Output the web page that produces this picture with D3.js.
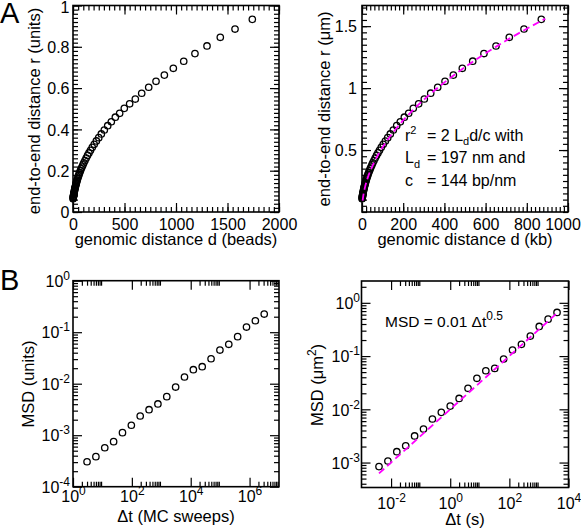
<!DOCTYPE html>
<html><head><meta charset="utf-8">
<script src="https://cdn.jsdelivr.net/npm/d3@7"></script>
<style>
body{margin:0;background:#fff}
svg{display:block}
text{font-family:"Liberation Sans",Arial,Helvetica,sans-serif;fill:#000}
</style>
</head><body>
<script>
// ---------- Panel A (left): end-to-end distance vs genomic distance (simulation units)
const dBeads = [1, 2, 3, 4, 5, 6, 7, 8, 9, 10, 12, 14, 16, 18, 20, 22, 25, 27, 30, 33, 36, 40, 44, 49, 54, 59, 65, 72, 79, 87, 96, 105, 116, 128, 141, 155, 170, 187, 206, 227, 250, 275, 304, 337, 372, 411, 453, 498, 550, 605, 667, 735, 806, 887, 974, 1075, 1184, 1301, 1430, 1573, 1741];
const rUnits = [0.064, 0.068, 0.072, 0.075, 0.078, 0.081, 0.085, 0.087, 0.090, 0.093, 0.098, 0.103, 0.108, 0.113, 0.117, 0.121, 0.127, 0.131, 0.137, 0.142, 0.148, 0.154, 0.161, 0.168, 0.176, 0.183, 0.191, 0.200, 0.209, 0.218, 0.228, 0.238, 0.249, 0.261, 0.274, 0.286, 0.299, 0.313, 0.328, 0.344, 0.360, 0.378, 0.397, 0.418, 0.437, 0.459, 0.478, 0.502, 0.524, 0.547, 0.575, 0.604, 0.633, 0.663, 0.696, 0.730, 0.767, 0.804, 0.846, 0.886, 0.933];
const aLeftXTicks = [0, 500, 1000, 1500, 2000];
const aLeftYTicks = [0, 0.2, 0.4, 0.6, 0.8, 1];

// ---------- Panel A (right): physical units
const dKb = [0.5, 1, 1.5, 2, 2.5, 3, 3.5, 4, 4.5, 5, 6, 7, 8, 9, 10, 11, 12.5, 13.5, 15, 16.5, 18, 20, 22, 24.5, 27, 29.5, 32.5, 36, 39.5, 43.5, 48, 52.5, 58, 64, 70.5, 77.5, 85, 93.5, 103, 113.5, 125, 137.5, 152, 168.5, 186, 205.5, 226.5, 249, 275, 302.5, 333.5, 367.5, 403, 443.5, 487, 537.5, 592, 650.5, 715, 786.5, 870.5];
const rUm = [0.107, 0.113, 0.120, 0.125, 0.130, 0.135, 0.142, 0.145, 0.150, 0.155, 0.163, 0.172, 0.180, 0.188, 0.195, 0.202, 0.212, 0.218, 0.228, 0.237, 0.247, 0.257, 0.268, 0.280, 0.293, 0.305, 0.318, 0.333, 0.348, 0.363, 0.380, 0.397, 0.415, 0.435, 0.457, 0.477, 0.498, 0.522, 0.547, 0.573, 0.600, 0.630, 0.662, 0.697, 0.728, 0.765, 0.797, 0.837, 0.873, 0.912, 0.959, 1.007, 1.055, 1.105, 1.160, 1.217, 1.279, 1.340, 1.410, 1.477, 1.555];
const fitDKb = [3, 6, 10, 15, 25, 40, 60, 85, 120, 160, 220, 300, 400, 500, 600, 700, 800, 890];
const fitRUm = [0.091, 0.128, 0.165, 0.203, 0.262, 0.331, 0.405, 0.482, 0.573, 0.662, 0.776, 0.906, 1.046, 1.169, 1.281, 1.384, 1.479, 1.560];
const aRightXTicks = [0, 200, 400, 600, 800, 1000];
const aRightYTicks = [0.5, 1, 1.5];

// ---------- Panel B (left): MSD vs MC sweeps
const tSweeps = [3, 6, 12, 24, 48, 96, 192, 384, 768, 1536, 3072, 6144, 12288, 24576, 49152, 98304, 196608, 393216, 786432, 1572864, 3145728];
const msdUnits = [3.05e-4, 3.83e-4, 5.7e-4, 7.5e-4, 1.12e-3, 1.56e-3, 2.36e-3, 3.13e-3, 4.04e-3, 5.6e-3, 8.6e-3, 1.35e-2, 1.87e-2, 2.14e-2, 3.05e-2, 4.5e-2, 5.82e-2, 8.2e-2, 0.126, 0.167, 0.225];
const bLeftXTicks = [1, 1e2, 1e4, 1e6];
const bLeftYTicks = [1e-4, 1e-3, 1e-2, 1e-1, 1];

// ---------- Panel B (right): MSD vs seconds
const tSec = [0.00390625, 0.0078125, 0.015625, 0.03125, 0.0625, 0.125, 0.25, 0.5, 1, 2, 4, 8, 16, 32, 64, 128, 256, 512, 1024, 2048, 4096];
const msdUm2 = [8.4e-4, 1.07e-3, 1.6e-3, 2.07e-3, 3.16e-3, 4.27e-3, 6.58e-3, 8.77e-3, 1.15e-2, 1.6e-2, 2.48e-2, 3.82e-2, 5.3e-2, 5.87e-2, 8.8e-2, 0.13, 0.166, 0.237, 0.36, 0.494, 0.66];
const fitTSec = [0.0039, 4096];
const fitMsdUm2 = [0.000625, 0.64];
const bRightXTicks = [1e-2, 1, 1e2, 1e4];
const bRightYTicks = [1e-3, 1e-2, 1e-1, 1];

// ================= drawing =================
const svg = d3.select("body").append("svg").attr("width", 581).attr("height", 531);
const FONT = '"Liberation Sans",Arial,Helvetica,sans-serif';
const MAJ = 9, MIN = 5, TFS = 16, EFS = 12;

function styleAxis(sel) {
  sel.select(".domain").remove();
  sel.attr("font-family", FONT).attr("font-size", TFS);
  sel.selectAll("line").attr("stroke", "#000").attr("stroke-width", 1.2);
  sel.selectAll("text").attr("fill", "#000");
}
function supLabels(sel) {
  sel.selectAll(".tick text").each(function(d) {
    const t = d3.select(this);
    t.text("10");
    t.append("tspan").attr("dy", -7).attr("font-size", EFS).text(Math.round(Math.log10(d)));
  });
}

function panel(o) {
  const g = svg.append("g");
  const b = o.box;
  // minor ticks (all four sides)
  g.append("g").attr("transform", `translate(0,${b.y1})`).call(d3.axisBottom(o.x).tickValues(o.xMinor).tickSizeInner(-MIN).tickSizeOuter(0).tickFormat("")).call(styleAxis);
  g.append("g").attr("transform", `translate(0,${b.y0})`).call(d3.axisTop(o.x).tickValues(o.xMinor).tickSizeInner(-MIN).tickSizeOuter(0).tickFormat("")).call(styleAxis);
  g.append("g").attr("transform", `translate(${b.x0},0)`).call(d3.axisLeft(o.y).tickValues(o.yMinor).tickSizeInner(-MIN).tickSizeOuter(0).tickFormat("")).call(styleAxis);
  g.append("g").attr("transform", `translate(${b.x1},0)`).call(d3.axisRight(o.y).tickValues(o.yMinor).tickSizeInner(-MIN).tickSizeOuter(0).tickFormat("")).call(styleAxis);
  // major ticks + labels
  const xb = g.append("g").attr("transform", `translate(0,${b.y1})`)
    .call(d3.axisBottom(o.x).tickValues(o.xMajor).tickSizeInner(-MAJ).tickSizeOuter(0).tickPadding(o.xPad).tickFormat(o.log ? (d => "10") : o.xFmt)).call(styleAxis);
  g.append("g").attr("transform", `translate(0,${b.y0})`).call(d3.axisTop(o.x).tickValues(o.xMajor).tickSizeInner(-MAJ).tickSizeOuter(0).tickFormat("")).call(styleAxis);
  const yl = g.append("g").attr("transform", `translate(${b.x0},0)`)
    .call(d3.axisLeft(o.y).tickValues(o.yMajor).tickSizeInner(-MAJ).tickSizeOuter(0).tickPadding(o.yPad).tickFormat(o.log ? (d => "10") : o.yFmt)).call(styleAxis);
  g.append("g").attr("transform", `translate(${b.x1},0)`).call(d3.axisRight(o.y).tickValues(o.yMajor).tickSizeInner(-MAJ).tickSizeOuter(0).tickFormat("")).call(styleAxis);
  yl.selectAll(".tick text").attr("dy", "0.36em");
  if (o.log) { supLabels(xb); supLabels(yl); }
  // frame
  g.append("rect").attr("x", b.x0).attr("y", b.y0).attr("width", b.x1 - b.x0).attr("height", b.y1 - b.y0)
    .attr("fill", "none").attr("stroke", "#000").attr("stroke-width", 1.6);
  return {g, xb, yl};
}

function points(g, x, y, xs, ys) {
  g.append("g").selectAll("circle").data(xs.map((v, i) => [v, ys[i]])).join("circle")
    .attr("cx", d => x(d[0])).attr("cy", d => y(d[1])).attr("r", 3.2)
    .attr("fill", "none").attr("stroke", "#000").attr("stroke-width", 1.3);
}
function fitLine(g, x, y, xs, ys, curve) {
  g.append("path").datum(xs.map((v, i) => [v, ys[i]]))
    .attr("d", d3.line().x(d => x(d[0])).y(d => y(d[1])).curve(curve))
    .attr("fill", "none").attr("stroke", "#ff00ff").attr("stroke-width", 1.8).attr("stroke-dasharray", "7,4");
}
function label(x, y, txt, fs, rot) {
  const t = svg.append("text").attr("font-size", fs).attr("text-anchor", "middle")
    .attr("transform", `translate(${x},${y})` + (rot ? " rotate(-90)" : ""));
  return t.text(txt);
}
const fmtLin = d => String(+d.toFixed(2));
const TT = 16.5;

// ---- A left
{
  const box = {x0: 73, x1: 279, y0: 5.5, y1: 212};
  const x = d3.scaleLinear().domain([0, 2000]).range([box.x0, box.x1]);
  const y = d3.scaleLinear().domain([0, 1]).range([box.y1, box.y0]);
  const p = panel({box, x, y, xMajor: aLeftXTicks, xMinor: d3.range(0, 2001, 50), yMajor: aLeftYTicks,
    yMinor: d3.range(0, 51).map(i => i * 0.02), xFmt: fmtLin, yFmt: fmtLin, xPad: 7, yPad: 3.5});
  p.yl.selectAll(".tick text").filter(d => d === 1).attr("y", 1.5);
  points(p.g, x, y, dBeads, rUnits);
  label(176, 245, "genomic distance d (beads)", TT);
  label(39.5, 111, "end-to-end distance r (units)", TT, true);
}
// ---- A right
{
  const box = {x0: 362, x1: 568, y0: 5.5, y1: 212};
  const x = d3.scaleLinear().domain([0, 1000]).range([box.x0, box.x1]);
  const y = d3.scaleLinear().domain([0, 1.6667]).range([box.y1, box.y0]);
  const p = panel({box, x, y, xMajor: aRightXTicks, xMinor: d3.range(0, 1001, 20), yMajor: aRightYTicks,
    yMinor: d3.range(0, 34).map(i => i * 0.05), xFmt: fmtLin, yFmt: fmtLin, xPad: 7, yPad: 5});
  p.xb.selectAll(".tick text").filter(d => d === 1000).attr("dx", -5.5);
  points(p.g, x, y, dKb, rUm);
  fitLine(p.g, x, y, fitDKb, fitRUm, d3.curveMonotoneX);
  label(465, 245, "genomic distance d (kb)", TT);
  label(330, 109, "end-to-end distance r (μm)", TT, true);
  // annotation
  const fs = 16;
  const t1 = svg.append("text").attr("font-size", fs).attr("x", 405).attr("y", 140.5);
  t1.append("tspan").text("r");
  t1.append("tspan").attr("font-size", 11).attr("y", 133.5).text("2");
  t1.append("tspan").attr("x", 427).attr("y", 140.5).text("= 2 L");
  t1.append("tspan").attr("font-size", 11).attr("y", 145).text("d");
  t1.append("tspan").attr("y", 140.5).text("d/c with");
  const t2 = svg.append("text").attr("font-size", fs).attr("x", 405).attr("y", 163);
  t2.append("tspan").text("L");
  t2.append("tspan").attr("font-size", 11).attr("y", 167.5).text("d");
  t2.append("tspan").attr("x", 427).attr("y", 163).text("= 197 nm and");
  const t3 = svg.append("text").attr("font-size", fs).attr("x", 405).attr("y", 185.5);
  t3.append("tspan").text("c");
  t3.append("tspan").attr("x", 427).text("= 144 bp/nm");
}
// ---- B left
{
  const box = {x0: 73, x1: 279, y0: 280.7, y1: 486.7};
  const x = d3.scaleLog().domain([1, 1e7]).range([box.x0, box.x1]);
  const y = d3.scaleLog().domain([1e-4, 1]).range([box.y1, box.y0]);
  const xMinor = bLeftXTicks.flatMap(m => d3.range(2, 10).map(k => m * k));
  const yMinor = [1e-4, 1e-3, 1e-2, 1e-1].flatMap(m => d3.range(2, 10).map(k => m * k));
  const p = panel({box, x, y, log: true, xMajor: bLeftXTicks, xMinor, yMajor: bLeftYTicks, yMinor, xPad: 4, yPad: 3});
  points(p.g, x, y, tSweeps, msdUnits);
  label(176, 522, "Δt (MC sweeps)", TT);
  label(34, 384, "MSD (units)", TT, true);
}
// ---- B right
{
  const box = {x0: 361.5, x1: 568.5, y0: 281, y1: 487.5};
  const x = d3.scaleLog().domain([1e-3, 1e4]).range([box.x0, box.x1]);
  const y = d3.scaleLog().domain([3.4e-4, 2.57]).range([box.y1, box.y0]);
  const xMinor = [1e-2, 1, 1e2].flatMap(m => d3.range(2, 10).map(k => m * k));
  const yMinor = [1e-4, 1e-3, 1e-2, 1e-1, 1].flatMap(m => d3.range(2, 10).map(k => m * k)).filter(v => v > 3.4e-4 && v < 2.57);
  const p = panel({box, x, y, log: true, xMajor: bRightXTicks, xMinor, yMajor: bRightYTicks, yMinor, xPad: 10, yPad: 1.5});
  points(p.g, x, y, tSec, msdUm2);
  fitLine(p.g, x, y, fitTSec, fitMsdUm2, d3.curveLinear);
  label(465, 525, "Δt (s)", TT);
  const yt = label(323, 385, "MSD (μm", TT, true);
  yt.append("tspan").attr("dy", -7).attr("font-size", EFS).text("2");
  yt.append("tspan").attr("dy", 7).text(")");
  const t = svg.append("text").attr("font-size", 15.5).attr("x", 385).attr("y", 327).text("MSD = 0.01 Δt");
  t.append("tspan").attr("dy", -7.5).attr("font-size", EFS).text("0.5");
}
// panel letters
svg.append("text").attr("x", 0).attr("y", 23).attr("font-size", 29).text("A");
svg.append("text").attr("x", 0).attr("y", 290).attr("font-size", 29).text("B");
</script>
</body></html>
